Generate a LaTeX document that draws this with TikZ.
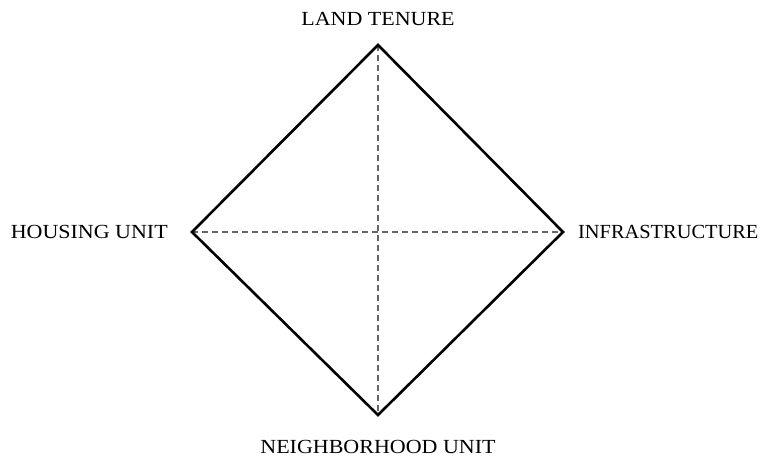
\documentclass[tikz,border=0pt]{standalone}
\usepackage{fontspec}
\setmainfont{Liberation Serif}[FakeStretch=1.1]
\newfontfamily\infrafont{Liberation Serif}[FakeStretch=1.02]
\usepackage{tikz}
\usetikzlibrary{positioning}

\begin{document}
\begin{tikzpicture}[x=1pt, y=1pt,
  lbl/.style={font=\fontsize{20}{24}\selectfont, inner sep=0pt},
  edge/.style={line width=2.6pt, line join=miter},
  axis/.style={gray!80!black, line width=1.6pt, dash pattern=on 6pt off 4pt}]
  \useasboundingbox (0,0) rectangle (764,457);
  % corners of the diamond
  \coordinate (top) at (378,412);
  \coordinate (left) at (192,225);
  \coordinate (right) at (563,225);
  \coordinate (bottom) at (378,42);
  \draw[axis] (left) -- (right);
  \draw[axis] (top) -- (bottom);
  \draw[edge] (top) -- (right) -- (bottom) -- (left) -- cycle;
  % labels
  \node[lbl, anchor=base] (tenure) at (378,431) {LAND TENURE};
  \node[lbl, anchor=base east] (housing) at (168,218) {HOUSING UNIT};
  \node[lbl, anchor=base west] (infra) at (578,218) {\infrafont INFRASTRUCTURE};
  \node[lbl, anchor=base] (neigh) at (378,3) {NEIGHBORHOOD UNIT};
\end{tikzpicture}
\end{document}
